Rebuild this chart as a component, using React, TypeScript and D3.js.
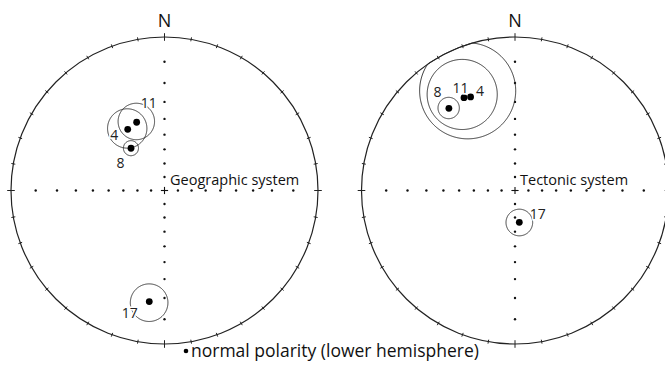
import React from "react";
import * as d3 from "d3";

// site names and palaeomagnetic site means (declination, inclination, alpha95)
const sites = ["4", "8", "11", "17"];
const geoDec = [329.0, 321.6, 337.8, 187.8];
const geoInc = [40.1, 51.3, 38.7, 17.7];
const geoA95 = [12, 5, 11, 9.1];
const tecDec = [334.6, 321.2, 331.2, 172.3];
const tecInc = [22.0, 21.0, 20.8, 66.4];
const tecA95 = [23.8, 5.4, 17.4, 9.5];

// net graticule: dots every 10 deg of inclination along the cardinal directions
const gridInc = [10, 20, 30, 40, 50, 60, 70, 80];
const gridDec = [0, 90, 180, 270];
const tickDec = d3.range(0, 360, 10);

const FONT = "'Open Sans', 'Noto Sans', sans-serif";
const R = 153.5;

// label offsets from the plotted point (layout only)
const geoLabelPos = [[-17.5, 10.5], [-14.5, 20], [4, -14], [-27.5, 16]];
const tecLabelPos = [[5.5, -1], [-15.5, -11.5], [-11.5, -5], [10.5, -3]];

const toLL = (dec: number, inc: number): [number, number] => [180 - dec, inc];

function Net({ cx, cy, decs, incs, a95s, labelPos, title, titleX }) {
  const proj = d3
    .geoStereographic()
    .scale(R)
    .translate([cx, cy])
    .rotate([0, -90])
    .clipAngle(90)
    .precision(0.1);
  const path = d3.geoPath(proj);
  const [ox, oy] = proj([0, 90]) as [number, number];
  const top = proj(toLL(0, 0)) as [number, number];

  return (
    <g>
      <circle cx={ox} cy={oy} r={proj.scale()} fill="none" stroke="#222" strokeWidth={1.2} />
      {tickDec.map((d) => {
        const p = proj(toLL(d, 0)) as [number, number];
        const ux = (p[0] - ox) / R;
        const uy = (p[1] - oy) / R;
        const L = d % 90 === 0 ? 3.8 : 2;
        return (
          <line key={d} x1={p[0] - ux * L} y1={p[1] - uy * L} x2={p[0] + ux * L} y2={p[1] + uy * L}
            stroke="#222" strokeWidth={1} />
        );
      })}
      {gridDec.map((d) =>
        gridInc.map((i) => {
          const p = proj(toLL(d, i)) as [number, number];
          return <circle key={d + "-" + i} cx={p[0]} cy={p[1]} r={1.2} fill="#111" />;
        })
      )}
      <line x1={ox - 3.6} x2={ox + 3.6} y1={oy} y2={oy} stroke="#111" strokeWidth={1.1} />
      <line x1={ox} x2={ox} y1={oy - 3.6} y2={oy + 3.6} stroke="#111" strokeWidth={1.1} />
      <text x={top[0]} y={top[1] - 10} textAnchor="middle" fontFamily={FONT} fontSize={18} fill="#111">N</text>
      <text x={titleX} y={oy - 5.5} fontFamily={FONT} fontSize={14.5} fill="#111">{title}</text>
      {sites.map((s, k) => (
        <path key={"c" + s}
          d={path(d3.geoCircle().center(toLL(decs[k], incs[k])).radius(a95s[k]).precision(1)()) || ""}
          fill="none" stroke="#222" strokeWidth={0.9} />
      ))}
      <g opacity={0.999}>
        {sites.map((s, k) => {
          const p = proj(toLL(decs[k], incs[k])) as [number, number];
          const lx = p[0] + labelPos[k][0];
          const ly = p[1] + labelPos[k][1];
          return (
            <g key={"p" + s}>
              <circle cx={p[0]} cy={p[1]} r={3.4} fill="#000" />
              <text x={lx} y={ly} fontFamily={FONT} fontSize={14} fill="#fff" stroke="#fff" strokeWidth={3}>{s}</text>
              <text x={lx} y={ly} fontFamily={FONT} fontSize={14} fill="#222">{s}</text>
            </g>
          );
        })}
      </g>
    </g>
  );
}

export default function App() {
  return (
    <svg width={665} height={377} style={{ position: "absolute", left: 0, top: 0, background: "#fff" }}>
      <rect width={665} height={377} fill="#fff" />
      <Net cx={164.5} cy={190.5} decs={geoDec} incs={geoInc} a95s={geoA95} labelPos={geoLabelPos}
        title="Geographic system" titleX={170} />
      <Net cx={515} cy={190.5} decs={tecDec} incs={tecInc} a95s={tecA95} labelPos={tecLabelPos}
        title="Tectonic system" titleX={520} />
      <circle cx={186} cy={351} r={2.3} fill="#000" />
      <text x={191} y={357} fontFamily={FONT} fontSize={17.5} fill="#111">normal polarity (lower hemisphere)</text>
    </svg>
  );
}
